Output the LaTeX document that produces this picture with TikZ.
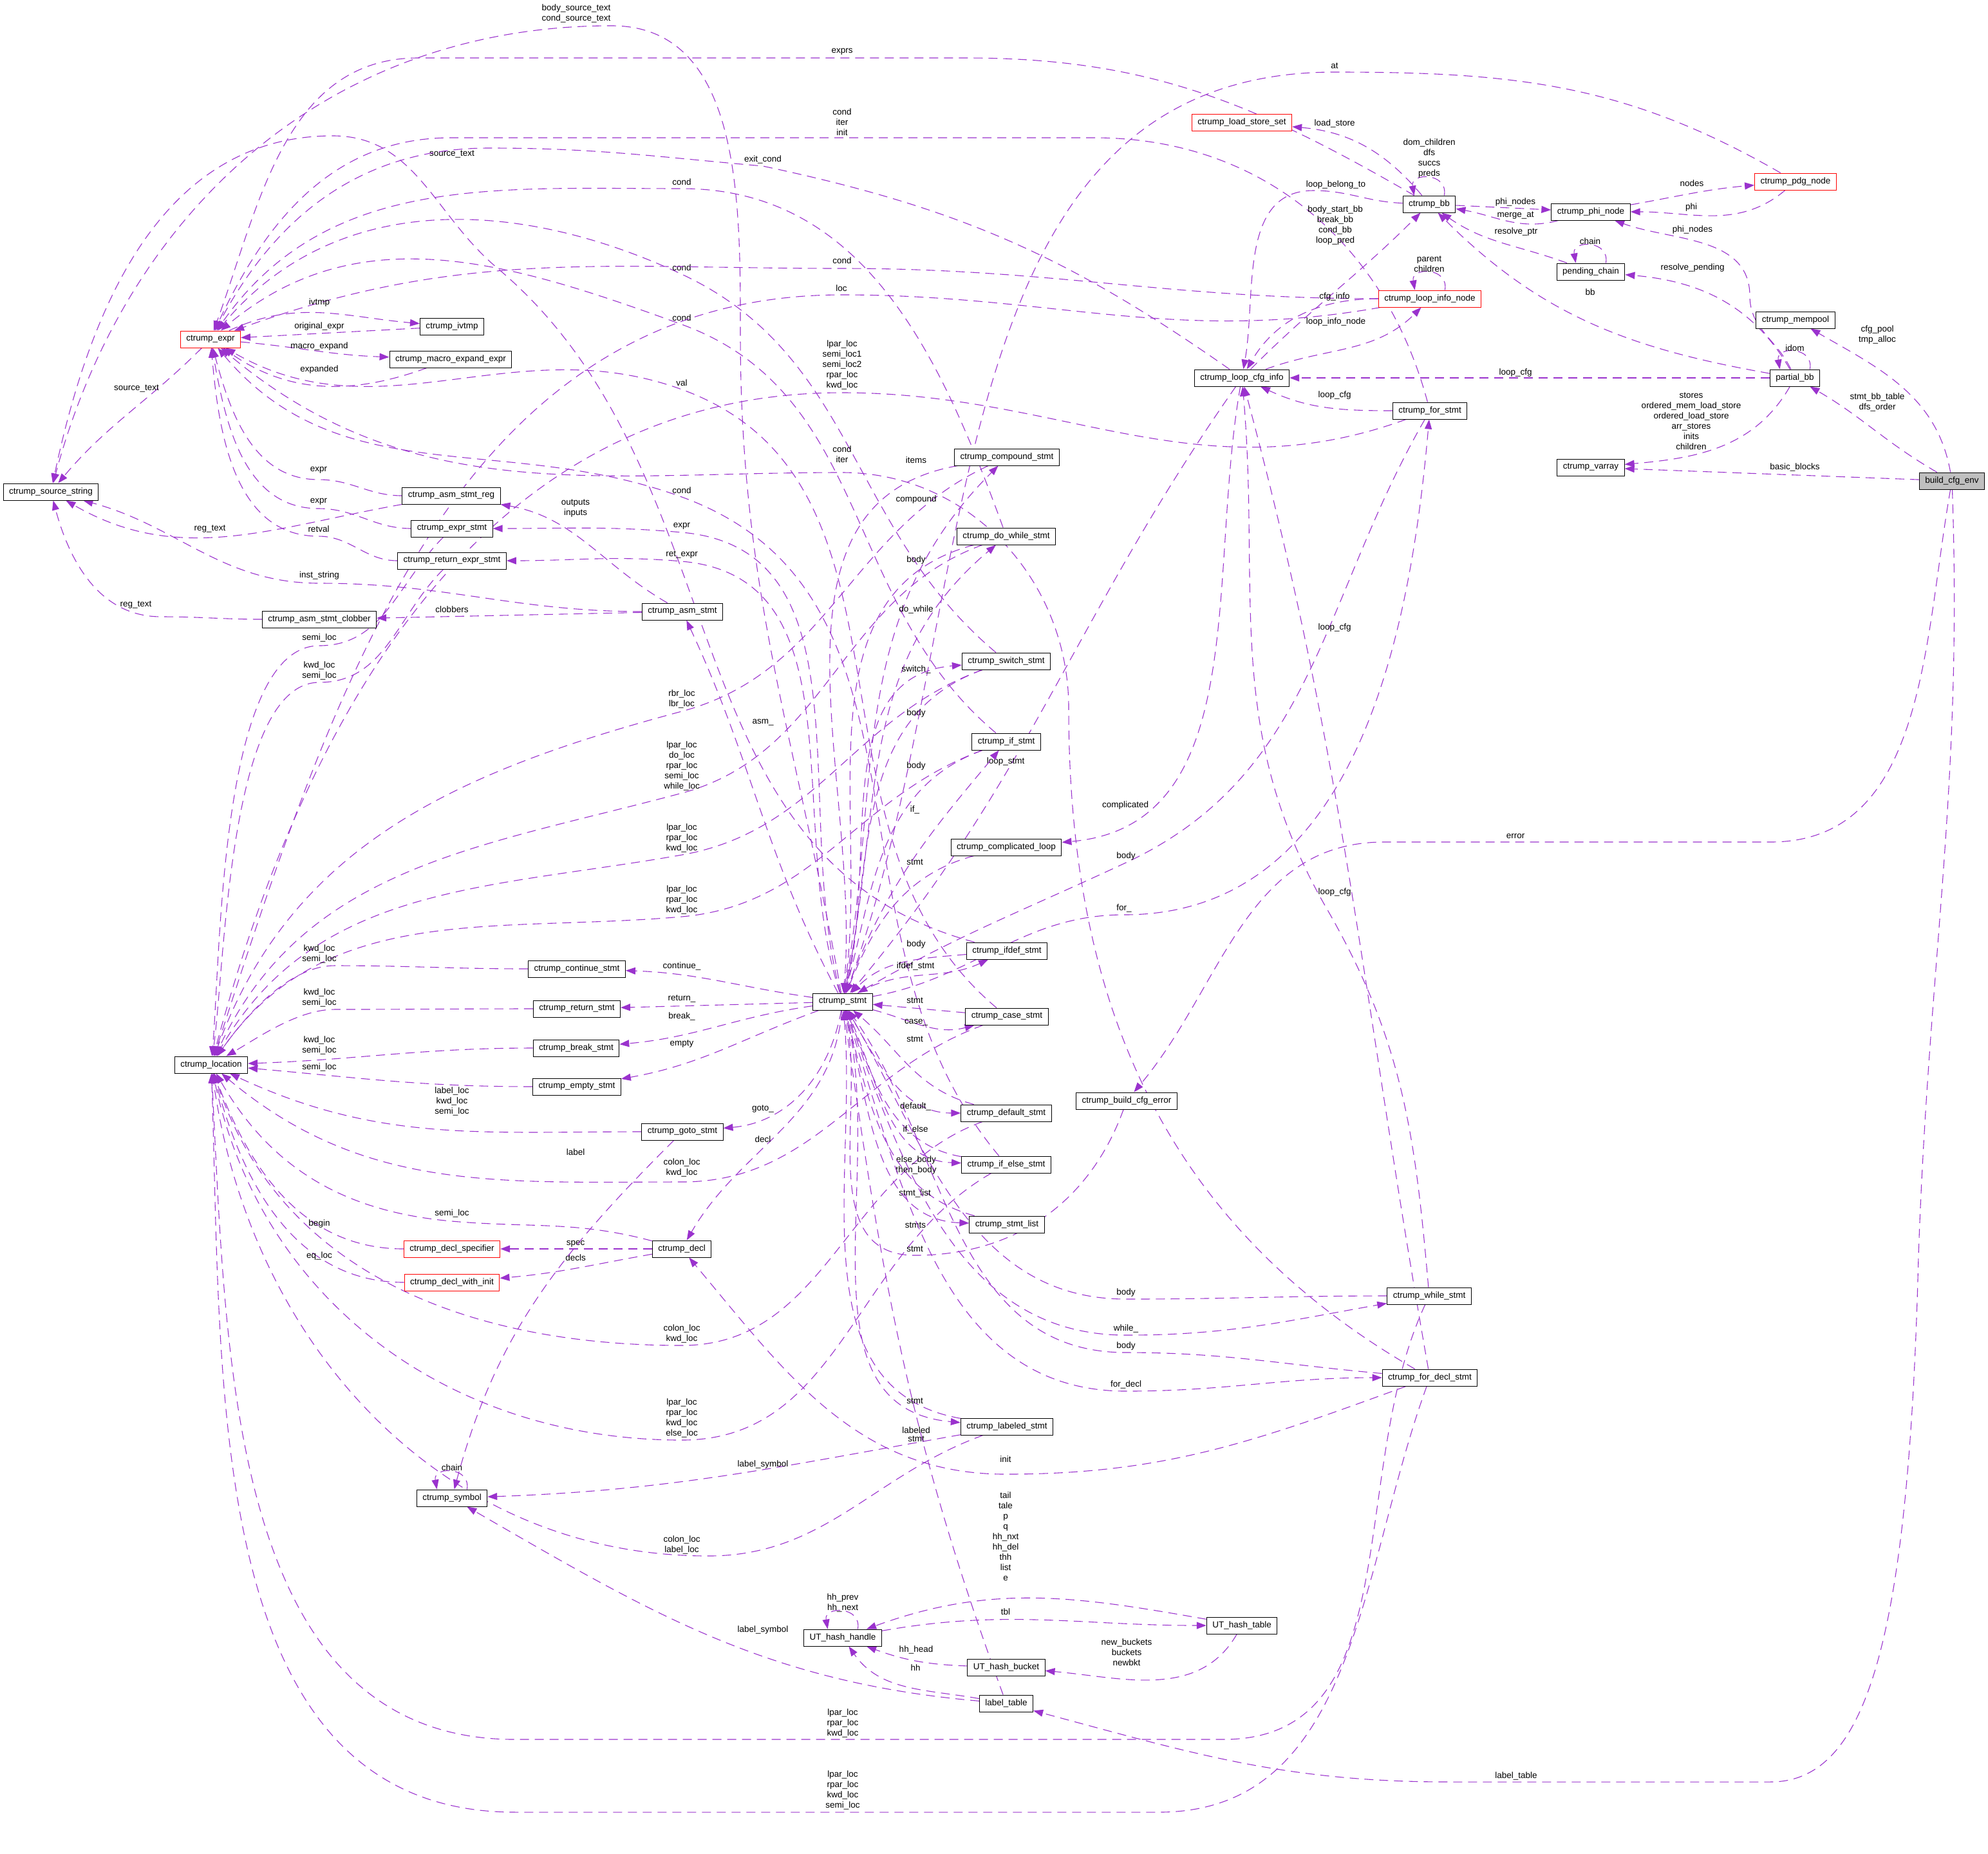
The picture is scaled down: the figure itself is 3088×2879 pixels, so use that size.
\documentclass[tikz,border=0pt]{standalone}
\usepackage{fontspec}
\newfontfamily\dxfont{Liberation Sans}
\usetikzlibrary{arrows.meta,backgrounds}
\definecolor{edgec}{HTML}{9A32CD}
\definecolor{rootfill}{HTML}{BFBFBF}

\begin{document}
\begin{tikzpicture}[x=0.2pt, y=0.2pt,
    every node/.style={font=\dxfont\fontsize{2.7}{3.2}\selectfont},
    cls/.style={rectangle, draw=black, line width=0.2pt, fill=white,
                minimum height=5.2pt, inner xsep=1.8pt, inner ysep=0pt},
    hid/.style={cls, draw=red},
    root/.style={cls, fill=rootfill},
    e/.style={draw=edgec, line width=0.22pt, dash pattern=on 2.8pt off 1.8pt,
              -{Triangle[length=3pt,width=2.2pt]}},
    lbl/.style={align=center, inner sep=0pt},
  ]
  \useasboundingbox (0,0) rectangle (3088,-2879);
  % classes
  \node[cls] (srcstr) at (79,-764) {ctrump\_source\_string};
  \node[hid] (expr) at (327,-527) {ctrump\_expr};
  \node[cls] (ivtmp) at (702,-507) {ctrump\_ivtmp};
  \node[cls] (macro) at (700,-558) {ctrump\_macro\_expand\_expr};
  \node[cls] (asmreg) at (701,-770) {ctrump\_asm\_stmt\_reg};
  \node[cls] (exprstmt) at (702,-821) {ctrump\_expr\_stmt};
  \node[cls] (retexpr) at (702,-871) {ctrump\_return\_expr\_stmt};
  \node[cls] (clobber) at (496,-962) {ctrump\_asm\_stmt\_clobber};
  \node[cls] (asm) at (1060,-950) {ctrump\_asm\_stmt};
  \node[cls] (loc) at (328,-1654) {ctrump\_location};
  \node[cls] (cont) at (896,-1505) {ctrump\_continue\_stmt};
  \node[cls] (ret) at (896,-1567) {ctrump\_return\_stmt};
  \node[cls] (brk) at (895,-1628) {ctrump\_break\_stmt};
  \node[cls] (empty) at (896,-1688) {ctrump\_empty\_stmt};
  \node[cls] (gotostmt) at (1060,-1758) {ctrump\_goto\_stmt};
  \node[cls] (stmt) at (1309,-1556) {ctrump\_stmt};
  \node[cls] (decl) at (1059,-1940) {ctrump\_decl};
  \node[hid] (declspec) at (702,-1940) {ctrump\_decl\_specifier};
  \node[hid] (declinit) at (702,-1992) {ctrump\_decl\_with\_init};
  \node[cls] (sym) at (702,-2327) {ctrump\_symbol};
  \node[cls] (hhandle) at (1309,-2544) {UT\_hash\_handle};
  \node[cls] (hbucket) at (1563,-2590) {UT\_hash\_bucket};
  \node[cls] (ltable) at (1563,-2646) {label\_table};
  \node[cls] (htable) at (1929,-2525) {UT\_hash\_table};
  \node[cls] (labeled) at (1564,-2216) {ctrump\_labeled\_stmt};
  \node[cls] (whilestmt) at (2220,-2013) {ctrump\_while\_stmt};
  \node[cls] (fordecl) at (2221,-2140) {ctrump\_for\_decl\_stmt};
  \node[cls] (compound) at (1564,-710) {ctrump\_compound\_stmt};
  \node[cls] (dowhile) at (1563,-833) {ctrump\_do\_while\_stmt};
  \node[cls] (switchstmt) at (1563,-1027) {ctrump\_switch\_stmt};
  \node[cls] (ifstmt) at (1563,-1152) {ctrump\_if\_stmt};
  \node[cls] (cloop) at (1563,-1316) {ctrump\_complicated\_loop};
  \node[cls] (ifdef) at (1564,-1477) {ctrump\_ifdef\_stmt};
  \node[cls] (casestmt) at (1564,-1579) {ctrump\_case\_stmt};
  \node[cls] (defstmt) at (1563,-1729) {ctrump\_default\_stmt};
  \node[cls] (ifelse) at (1563,-1809) {ctrump\_if\_else\_stmt};
  \node[cls] (slist) at (1564,-1902) {ctrump\_stmt\_list};
  \node[cls] (cfgerr) at (1750,-1710) {ctrump\_build\_cfg\_error};
  \node[cls] (lcfg) at (1929,-587) {ctrump\_loop\_cfg\_info};
  \node[cls] (forstmt) at (2221,-638) {ctrump\_for\_stmt};
  \node[hid] (lsset) at (1929,-190) {ctrump\_load\_store\_set};
  \node[cls] (bb) at (2220,-317) {ctrump\_bb};
  \node[hid] (linode) at (2221,-464) {ctrump\_loop\_info\_node};
  \node[cls] (phi) at (2471,-329) {ctrump\_phi\_node};
  \node[hid] (pdg) at (2789,-282) {ctrump\_pdg\_node};
  \node[cls] (pend) at (2471,-422) {pending\_chain};
  \node[cls] (mempool) at (2789,-497) {ctrump\_mempool};
  \node[cls] (pbb) at (2788,-587) {partial\_bb};
  \node[cls] (varray) at (2471,-726) {ctrump\_varray};
  \node[root] (env) at (3032,-747) {build\_cfg\_env};

  \begin{scope}[on background layer]
  % into ctrump_source_string
  \draw[e] (stmt) to[out=100,in=270] (1150,-520) to[out=90,in=0] (950,-40) to[out=180,in=75] (srcstr) node[lbl] at (895,-21) {body\_source\_text\\cond\_source\_text};
  \draw[e] (expr) to[out=225,in=50] (srcstr) node[lbl] at (212,-603) {source\_text};
  \draw[e] (ifdef) to[out=165,in=-40] (772,-416) to[out=140,in=0] (517,-211) to[out=180,in=78] (srcstr) node[lbl] at (702,-239) {source\_text};
  \draw[e] (asmreg) to[out=190,in=-30] (srcstr) node[lbl] at (326,-822) {reg\_text};
  \draw[e] (asm) to[out=180,in=0] (496,-906) to[out=180,in=-15] (srcstr) node[lbl] at (496,-894) {inst\_string};
  \draw[e] (clobber) to[out=180,in=0] (250,-958) to[out=180,in=-75] (srcstr) node[lbl] at (211,-940) {reg\_text};
  % into ctrump_expr
  \draw[e] (bb) to[out=150,in=0] (1500,-90) -- (650,-90) to[out=180,in=70] (expr) node[lbl] at (1308,-80) {exprs};
  \draw[e] (forstmt) to[out=105,in=0] (1700,-214) -- (700,-214) to[out=180,in=65] (expr) node[lbl] at (1308,-190) {cond\\iter\\init};
  \draw[e] (lcfg) to[out=145,in=-12] (1185,-258) to[out=175,in=0] (760,-230) to[out=180,in=62] (expr) node[lbl] at (1185,-248) {exit\_cond};
  \draw[e] (dowhile) to[out=110,in=0] (1059,-293) to[out=180,in=55] (expr) node[lbl] at (1059,-283) {cond};
  \draw[e] (switchstmt) to[out=140,in=-25] (1059,-426) to[out=155,in=50] (expr) node[lbl] at (1059,-416) {cond};
  \draw[e] (ifstmt) to[out=140,in=-20] (1059,-504) to[out=160,in=40] (expr) node[lbl] at (1059,-494) {cond};
  \draw[e] (linode) to[out=180,in=0] (1308,-417) to[out=180,in=20] (expr) node[lbl] at (1308,-405) {cond};
  \draw[e] (casestmt) to[out=140,in=-20] (1059,-605) to[out=160,in=-30] (expr) node[lbl] at (1059,-595) {val};
  \draw[e] (fordecl) to[out=150,in=-90] (1660,-1100) to[out=90,in=0] (1308,-734) to[out=180,in=-40] (expr) node[lbl] at (1308,-706) {cond\\iter};
  \draw[e] (ifelse) to[out=130,in=-20] (1059,-772) to[out=160,in=-50] (expr) node[lbl] at (1059,-762) {cond};
  \draw[e] (ivtmp) -- (expr) node[lbl] at (496,-507) {original\_expr};
  \draw[e] (expr) to[out=25,in=175] (ivtmp) node[lbl] at (496,-470) {ivtmp};
  \draw[e] (expr) to[out=-5,in=178] (macro) node[lbl] at (496,-538) {macro\_expand};
  \draw[e] (macro) to[out=200,in=-35] (expr) node[lbl] at (496,-574) {expanded};
  \draw[e] (asmreg) to[out=180,in=0] (495,-745) to[out=180,in=-75] (expr) node[lbl] at (495,-730) {expr};
  \draw[e] (exprstmt) to[out=180,in=0] (495,-790) to[out=180,in=-80] (expr) node[lbl] at (495,-779) {expr};
  \draw[e] (retexpr) to[out=180,in=0] (495,-833) to[out=180,in=-85] (expr) node[lbl] at (495,-822) {retval};
  % asm statement parts
  \draw[e] (asm) to[out=150,in=-10] (asmreg) node[lbl] at (894,-790) {outputs\\inputs};
  \draw[e] (asm) -- (clobber) node[lbl] at (702,-947) {clobbers};
  \draw[e] (stmt) to[out=105,in=-5] (1059,-827) to[out=175,in=0] (exprstmt) node[lbl] at (1059,-817) {expr};
  \draw[e] (stmt) to[out=108,in=-5] (1059,-872) to[out=175,in=0] (retexpr) node[lbl] at (1059,-862) {ret\_expr};
  \draw[e] (stmt) to[out=118,in=-65] (asm) node[lbl] at (1185,-1122) {asm\_};
  % into ctrump_location
  \draw[e] (exprstmt) to[out=225,in=0] (496,-1003) to[out=180,in=85,looseness=0.6] (loc) node[lbl] at (496,-991) {semi\_loc};
  \draw[e] (retexpr) to[out=225,in=0] (496,-1060) to[out=180,in=82,looseness=0.6] (loc) node[lbl] at (496,-1042) {kwd\_loc\\semi\_loc};
  \draw[e] (compound) to[out=205,in=15] (1059,-1105) to[out=195,in=70] (loc) node[lbl] at (1059,-1086) {rbr\_loc\\lbr\_loc};
  \draw[e] (dowhile) to[out=200,in=15] (1059,-1232) to[out=195,in=65] (loc) node[lbl] at (1059,-1190) {lpar\_loc\\do\_loc\\rpar\_loc\\semi\_loc\\while\_loc};
  \draw[e] (switchstmt) to[out=200,in=10] (1059,-1328) to[out=190,in=60] (loc) node[lbl] at (1059,-1302) {lpar\_loc\\rpar\_loc\\kwd\_loc};
  \draw[e] (ifstmt) to[out=200,in=5] (1059,-1424) to[out=185,in=55] (loc) node[lbl] at (1059,-1398) {lpar\_loc\\rpar\_loc\\kwd\_loc};
  \draw[e] (forstmt) to[out=200,in=0] (1308,-610) to[out=180,in=75] (loc) node[lbl] at (1308,-567) {lpar\_loc\\semi\_loc1\\semi\_loc2\\rpar\_loc\\kwd\_loc};
  \draw[e] (linode) to[out=190,in=0] (1308,-458) to[out=180,in=72] (loc) node[lbl] at (1307,-448) {loc};
  \draw[e] (cont) to[out=180,in=0] (520,-1500) to[out=180,in=55,looseness=0.8] (loc) node[lbl] at (496,-1482) {kwd\_loc\\semi\_loc};
  \draw[e] (ret) to[out=180,in=0] (520,-1568) to[out=180,in=30,looseness=0.8] (loc) node[lbl] at (496,-1550) {kwd\_loc\\semi\_loc};
  \draw[e] (brk) to[out=180,in=2] (loc) node[lbl] at (496,-1624) {kwd\_loc\\semi\_loc};
  \draw[e] (empty) to[out=180,in=-5] (loc) node[lbl] at (496,-1658) {semi\_loc};
  \draw[e] (gotostmt) to[out=180,in=-25] (loc) node[lbl] at (702,-1711) {label\_loc\\kwd\_loc\\semi\_loc};
  \draw[e] (casestmt) to[out=200,in=0] (1059,-1836) to[out=180,in=-40] (loc) node[lbl] at (1059,-1814) {colon\_loc\\kwd\_loc};
  \draw[e] (decl) to[out=165,in=-5] (702,-1897) to[out=175,in=-60] (loc) node[lbl] at (702,-1885) {semi\_loc};
  \draw[e] (declspec) to[out=180,in=-70] (loc) node[lbl] at (496,-1901) {begin};
  \draw[e] (declinit) to[out=180,in=-75] (loc) node[lbl] at (496,-1951) {eq\_loc};
  \draw[e] (defstmt) to[out=200,in=0] (1059,-2090) to[out=180,in=-72] (loc) node[lbl] at (1059,-2072) {colon\_loc\\kwd\_loc};
  \draw[e] (ifelse) to[out=210,in=0] (1059,-2237) to[out=180,in=-78] (loc) node[lbl] at (1059,-2203) {lpar\_loc\\rpar\_loc\\kwd\_loc\\else\_loc};
  \draw[e] (labeled) to[out=200,in=0] (1100,-2417) to[out=180,in=-82] (loc) node[lbl] at (1059,-2400) {colon\_loc\\label\_loc};
  \draw[e] (whilestmt) to[out=245,in=0] (1900,-2702) -- (800,-2702) to[out=180,in=-87] (loc) node[lbl] at (1309,-2677) {lpar\_loc\\rpar\_loc\\kwd\_loc};
  \draw[e] (fordecl) to[out=250,in=0] (1800,-2815) -- (800,-2815) to[out=180,in=-88] (loc) node[lbl] at (1309,-2781) {lpar\_loc\\rpar\_loc\\kwd\_loc\\semi\_loc};
  % into ctrump_stmt
  \draw[e] (compound) to[out=190,in=85] (stmt) node[lbl] at (1423,-715) {items};
  \draw[e] (dowhile) to[out=195,in=82] (stmt) node[lbl] at (1423,-870) {body};
  \draw[e] (switchstmt) to[out=200,in=78] (stmt) node[lbl] at (1423,-1108) {body};
  \draw[e] (ifstmt) to[out=200,in=75] (stmt) node[lbl] at (1423,-1190) {body};
  \draw[e] (cloop) to[out=195,in=68] (stmt) node[lbl] at (1421,-1339) {stmt};
  \draw[e] (ifdef) to[out=185,in=45] (stmt) node[lbl] at (1423,-1467) {body};
  \draw[e] (casestmt) -- (stmt) node[lbl] at (1421,-1554) {stmt};
  \draw[e] (defstmt) to[out=165,in=-40] (stmt) node[lbl] at (1421,-1614) {stmt};
  \draw[e] (ifelse) to[out=170,in=-68] (stmt) node[lbl] at (1423,-1810) {else\_body\\then\_body};
  \draw[e] (slist) to[out=165,in=-75] (stmt) node[lbl] at (1421,-1854) {stmt\_list};
  \draw[e] (cfgerr) to[out=250,in=0] (1421,-1950) to[out=180,in=-78] (stmt) node[lbl] at (1421,-1940) {stmt};
  \draw[e] (labeled) to[out=170,in=-85] (stmt) node[lbl] at (1423,-2235) {stmt};
  \draw[e] (ltable) to[out=110,in=-82] (stmt) node[lbl] at (1421,-2176) {stmt};
  \draw[e] (whilestmt) to[out=180,in=0] (1749,-2018) to[out=180,in=-60] (stmt) node[lbl] at (1749,-2008) {body};
  \draw[e] (fordecl) to[out=175,in=0] (1749,-2101) to[out=180,in=-55] (stmt) node[lbl] at (1749,-2091) {body};
  \draw[e] (forstmt) to[out=240,in=25] (1749,-1340) to[out=205,in=30] (stmt) node[lbl] at (1749,-1330) {body};
  \draw[e] (lcfg) to[out=235,in=50] (stmt) node[lbl] at (1562,-1183) {loop\_stmt};
  \draw[e] (pdg) to[out=150,in=0] (2073,-112) to[out=180,in=70] (stmt) node[lbl] at (2073,-102) {at};
  % out of ctrump_stmt
  \draw[e] (stmt) to[out=80,in=-135] (compound) node[lbl] at (1423,-776) {compound};
  \draw[e] (stmt) to[out=78,in=-140] (dowhile) node[lbl] at (1423,-947) {do\_while};
  \draw[e] (stmt) to[out=75,in=185] (switchstmt) node[lbl] at (1423,-1040) {switch\_};
  \draw[e] (stmt) to[out=70,in=-130] (ifstmt) node[lbl] at (1421,-1258) {if\_};
  \draw[e] (stmt) to[out=30,in=-155] (ifdef) node[lbl] at (1422,-1501) {ifdef\_stmt};
  \draw[e] (stmt) to[out=-15,in=-165] (casestmt) node[lbl] at (1423,-1588) {case\_};
  \draw[e] (stmt) to[out=-60,in=180] (defstmt) node[lbl] at (1422,-1719) {default\_};
  \draw[e] (stmt) to[out=-65,in=178] (ifelse) node[lbl] at (1422,-1755) {if\_else};
  \draw[e] (stmt) to[out=-75,in=178] (slist) node[lbl] at (1422,-1903) {stmts};
  \draw[e] (stmt) to[out=-75,in=175] (labeled) node[lbl] at (1423,-2222) {labeled};
  \draw[e] (stmt) to[out=-70,in=180] (1749,-2074) to[out=0,in=190] (whilestmt) node[lbl] at (1749,-2064) {while\_};
  \draw[e] (stmt) to[out=-72,in=180] (1749,-2161) to[out=0,in=180] (fordecl) node[lbl] at (1749,-2151) {for\_decl};
  \draw[e] (stmt) to[out=10,in=180] (1746,-1421) to[out=0,in=-95] (forstmt) node[lbl] at (1746,-1411) {for\_};
  \draw[e] (stmt) to[out=172,in=-2] (cont) node[lbl] at (1059,-1501) {continue\_};
  \draw[e] (stmt) -- (ret) node[lbl] at (1059,-1551) {return\_};
  \draw[e] (stmt) to[out=188,in=5] (brk) node[lbl] at (1059,-1579) {break\_};
  \draw[e] (stmt) to[out=200,in=10] (empty) node[lbl] at (1059,-1622) {empty};
  \draw[e] (stmt) to[out=-100,in=5] (gotostmt) node[lbl] at (1185,-1723) {goto\_};
  \draw[e] (stmt) to[out=-95,in=60] (decl) node[lbl] at (1185,-1770) {decl};
  % declarations and symbols
  \draw[e] (decl) -- (declspec) node[lbl] at (894,-1932) {spec};
  \draw[e] (decl) to[out=190,in=5] (declinit) node[lbl] at (894,-1954) {decls};
  \draw[e] (fordecl) to[out=200,in=0] (1562,-2290) to[out=180,in=-50] (decl) node[lbl] at (1562,-2267) {init};
  \draw[e] (gotostmt) to[out=225,in=75] (sym) node[lbl] at (894,-1790) {label};
  \draw[e] (labeled) to[out=190,in=2] (sym) node[lbl] at (1185,-2275) {label\_symbol};
  \draw[e] (ltable) to[out=175,in=-30] (sym) node[lbl] at (1185,-2532) {label\_symbol};
  \draw[e] (sym.30) to[out=80,in=100,looseness=2] (sym.150) node[lbl] at (702,-2280) {chain};
  % hash tables
  \draw[e] (hhandle.30) to[out=80,in=100,looseness=2] (hhandle.150) node[lbl] at (1309,-2490) {hh\_prev\\hh\_next};
  \draw[e] (htable) to[out=170,in=20] (hhandle) node[lbl] at (1562,-2387) {tail\\tale\\p\\q\\hh\_nxt\\hh\_del\\thh\\list\\e};
  \draw[e] (hhandle) to[out=10,in=180] (htable) node[lbl] at (1562,-2504) {tbl};
  \draw[e] (hbucket) to[out=178,in=-20] (hhandle) node[lbl] at (1423,-2563) {hh\_head};
  \draw[e] (ltable) to[out=170,in=-55] (hhandle) node[lbl] at (1422,-2591) {hh};
  \draw[e] (htable) to[out=240,in=-5] (hbucket) node[lbl] at (1750,-2567) {new\_buckets\\buckets\\newbkt};
  % build_cfg_env
  \draw[e] (env) to[out=-88,in=88] (2980,-1950) .. controls (2965,-2550) and (2900,-2768) .. (2750,-2768) -- (2250,-2768) to[out=180,in=-15] (ltable) node[lbl] at (2355,-2759) {label\_table};
  \draw[e] (env) to[out=-100,in=0] (2750,-1308) -- (2150,-1308) to[out=180,in=50] (cfgerr) node[lbl] at (2354,-1299) {error};
  \draw[e] (env) -- (varray) node[lbl] at (2788,-726) {basic\_blocks};
  \draw[e] (env) to[out=150,in=-30] (pbb) node[lbl] at (2916,-625) {stmt\_bb\_table\\dfs\_order};
  \draw[e] (env) to[out=100,in=-30] (mempool) node[lbl] at (2916,-520) {cfg\_pool\\tmp\_alloc};
  % partial_bb
  \draw[e] (pbb.30) to[out=80,in=100,looseness=2] (pbb.150) node[lbl] at (2788,-541) {idom};
  \draw[e] (pbb) to[out=115,in=270] (2718,-460) to[out=90,in=-20] (phi) node[lbl] at (2629,-357) {phi\_nodes};
  \draw[e] (pbb) to[out=120,in=-5] (pend) node[lbl] at (2629,-416) {resolve\_pending};
  \draw[e] (pbb) to[out=170,in=-45] (bb) node[lbl] at (2470,-454) {bb};
  \draw[e] (pbb) -- (lcfg) node[lbl] at (2354,-579) {loop\_cfg};
  \draw[e] (pbb) to[out=-120,in=5] (varray) node[lbl] at (2627,-654) {stores\\ordered\_mem\_load\_store\\ordered\_load\_store\\arr\_stores\\inits\\children};
  % phi and pdg nodes
  \draw[e] (phi) to[out=10,in=185] (pdg) node[lbl] at (2628,-285) {nodes};
  \draw[e] (pdg) to[out=-140,in=0] (phi) node[lbl] at (2627,-322) {phi};
  \draw[e] (bb) -- (phi) node[lbl] at (2354,-314) {phi\_nodes};
  \draw[e] (phi) to[out=195,in=-10] (bb) node[lbl] at (2354,-335) {merge\_at};
  \draw[e] (pend) to[out=160,in=-35] (bb) node[lbl] at (2355,-360) {resolve\_ptr};
  \draw[e] (pend.30) to[out=80,in=100,looseness=2] (pend.150) node[lbl] at (2470,-375) {chain};
  % basic blocks and loops
  \draw[e] (bb.30) to[out=80,in=100,looseness=2] (bb.150) node[lbl] at (2220,-246) {dom\_children\\dfs\\succs\\preds};
  \draw[e] (bb) to[out=130,in=-5] (lsset) node[lbl] at (2073,-192) {load\_store};
  \draw[e] (bb) to[out=178,in=0] (2040,-296) to[out=180,in=80] (lcfg) node[lbl] at (2075,-287) {loop\_belong\_to};
  \draw[e] (lcfg) to[out=45,in=-135] (bb) node[lbl] at (2074,-350) {body\_start\_bb\\break\_bb\\cond\_bb\\loop\_pred};
  \draw[e] (linode) to[out=180,in=60] (lcfg) node[lbl] at (2073,-461) {cfg\_info};
  \draw[e] (lcfg) to[out=20,in=-135] (linode) node[lbl] at (2075,-500) {loop\_info\_node};
  \draw[e] (linode.30) to[out=80,in=100,looseness=2] (linode.150) node[lbl] at (2220,-410) {parent\\children};
  \draw[e] (forstmt) to[out=180,in=-25] (lcfg) node[lbl] at (2073,-614) {loop\_cfg};
  \draw[e] (lcfg) to[out=-100,in=5] (cloop) node[lbl] at (1748,-1251) {complicated};
  \draw[e] (whilestmt) to[out=95,in=-60] (2060,-1410) to[out=120,in=-85] (lcfg) node[lbl] at (2073,-1386) {loop\_cfg};
  \draw[e] (fordecl) to[out=100,in=-75] (lcfg) node[lbl] at (2073,-975) {loop\_cfg};
  \end{scope}
\end{tikzpicture}
\end{document}
